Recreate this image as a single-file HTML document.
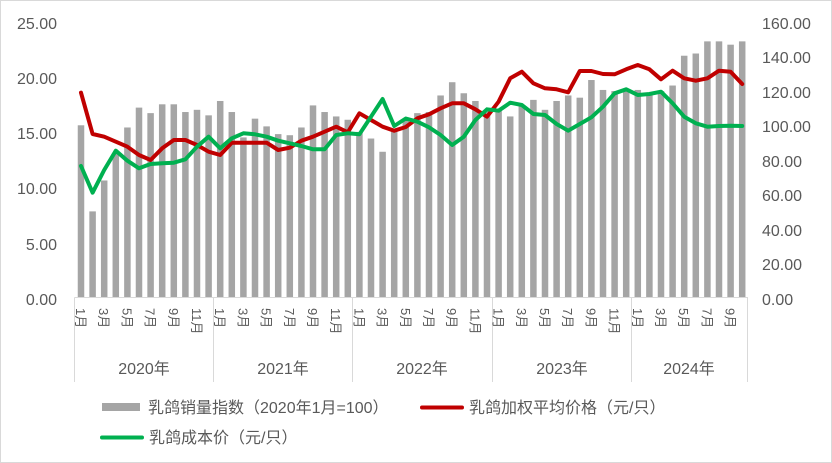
<!DOCTYPE html>
<html><head><meta charset="utf-8"><style>
html,body{margin:0;padding:0;background:#fff}
svg{display:block}
text{font-family:"Liberation Sans","Noto Sans CJK SC",sans-serif;fill:#595959}
</style></head><body>
<svg width="832" height="463" viewBox="0 0 832 463" xmlns="http://www.w3.org/2000/svg">
<rect x="0.5" y="0.5" width="831" height="462" fill="#fff" stroke="#d9d9d9"/>
<g font-size="16">
<text x="57" y="29" text-anchor="end">25.00</text>
<text x="57" y="84" text-anchor="end">20.00</text>
<text x="57" y="139" text-anchor="end">15.00</text>
<text x="57" y="194" text-anchor="end">10.00</text>
<text x="57" y="250" text-anchor="end">5.00</text>
<text x="57" y="305" text-anchor="end">0.00</text>
<text x="762" y="29">160.00</text>
<text x="762" y="63">140.00</text>
<text x="762" y="98">120.00</text>
<text x="762" y="132">100.00</text>
<text x="762" y="167">80.00</text>
<text x="762" y="201">60.00</text>
<text x="762" y="236">40.00</text>
<text x="762" y="270">20.00</text>
<text x="762" y="305">0.00</text>
</g>
<g transform="translate(77.75,297.5) scale(11.6,-11.04)" fill="#a5a5a5">
<rect x="0" width="0.56" height="15.6"/><rect x="1" width="0.56" height="7.8"/><rect x="2" width="0.56" height="10.6"/><rect x="3" width="0.56" height="13.1"/><rect x="4" width="0.56" height="15.4"/><rect x="5" width="0.56" height="17.2"/><rect x="6" width="0.56" height="16.7"/><rect x="7" width="0.56" height="17.5"/><rect x="8" width="0.56" height="17.5"/><rect x="9" width="0.56" height="16.8"/><rect x="10" width="0.56" height="17.0"/><rect x="11" width="0.56" height="16.5"/>
<rect x="12" width="0.56" height="17.8"/><rect x="13" width="0.56" height="16.8"/><rect x="14" width="0.56" height="14.5"/><rect x="15" width="0.56" height="16.2"/><rect x="16" width="0.56" height="15.5"/><rect x="17" width="0.56" height="14.8"/><rect x="18" width="0.56" height="14.7"/><rect x="19" width="0.56" height="15.4"/><rect x="20" width="0.56" height="17.4"/><rect x="21" width="0.56" height="16.8"/><rect x="22" width="0.56" height="16.4"/><rect x="23" width="0.56" height="16.1"/>
<rect x="24" width="0.56" height="15.0"/><rect x="25" width="0.56" height="14.4"/><rect x="26" width="0.56" height="13.2"/><rect x="27" width="0.56" height="15.2"/><rect x="28" width="0.56" height="16.1"/><rect x="29" width="0.56" height="16.7"/><rect x="30" width="0.56" height="16.8"/><rect x="31" width="0.56" height="18.3"/><rect x="32" width="0.56" height="19.5"/><rect x="33" width="0.56" height="18.5"/><rect x="34" width="0.56" height="17.8"/><rect x="35" width="0.56" height="17.0"/>
<rect x="36" width="0.56" height="17.0"/><rect x="37" width="0.56" height="16.4"/><rect x="38" width="0.56" height="17.3"/><rect x="39" width="0.56" height="17.9"/><rect x="40" width="0.56" height="17.0"/><rect x="41" width="0.56" height="17.8"/><rect x="42" width="0.56" height="18.3"/><rect x="43" width="0.56" height="18.1"/><rect x="44" width="0.56" height="19.7"/><rect x="45" width="0.56" height="18.8"/><rect x="46" width="0.56" height="18.7"/><rect x="47" width="0.56" height="18.8"/>
<rect x="48" width="0.56" height="18.8"/><rect x="49" width="0.56" height="18.4"/><rect x="50" width="0.56" height="18.7"/><rect x="51" width="0.56" height="19.2"/><rect x="52" width="0.56" height="21.9"/><rect x="53" width="0.56" height="22.1"/><rect x="54" width="0.56" height="23.2"/><rect x="55" width="0.56" height="23.2"/><rect x="56" width="0.56" height="22.9"/><rect x="57" width="0.56" height="23.2"/>
</g>
<g transform="translate(81,0) scale(11.6,1)" fill="none" stroke-width="4" stroke-linejoin="round" stroke-linecap="round">
<polyline vector-effect="non-scaling-stroke" stroke="#c00000" points="0,92.7 1,134 2,136.7 3,141.7 4,146.7 5,155 6,160 7,148.3 8,140 9,140 10,145 11,151.7 12,155 13,142.7 14,142.7 15,142.7 16,142.7 17,150 18,147.7 19,140.7 20,136.7 21,131.7 22,126.7 23,132.3 24,113.3 25,120 26,126.7 27,130.7 28,127 29,118.3 30,114.3 31,108.3 32,103.3 33,103.3 34,109.3 35,116.7 36,101.7 37,78.3 38,71.7 39,83.3 40,88.3 41,89.3 42,92.3 43,71 44,71 45,74 46,74.3 47,69.3 48,65 49,69.3 50,79.3 51,70.7 52,78.3 53,80.7 54,78.3 55,70.7 56,71.7 57,84"/>
<polyline vector-effect="non-scaling-stroke" stroke="#00b050" points="0,166 1,192.7 2,170 3,150.7 4,160.7 5,168.3 6,164 7,163.3 8,162.7 9,159.3 10,146.7 11,136.7 12,148.3 13,138.3 14,133.3 15,134.3 16,136.7 17,140.7 18,143.3 19,146 20,149.3 21,149.3 22,135 23,133.3 24,134.3 25,116.7 26,99 27,126 28,118.5 29,121.7 30,127.3 31,135 32,145 33,136.7 34,120 35,109.3 36,110.7 37,102.7 38,105 39,114 40,115 41,124 42,130.7 43,124 44,117.3 45,106.7 46,93.3 47,89.3 48,95 49,94 50,91.7 51,103.3 52,116.7 53,123.3 54,126.7 55,126 56,125.7 57,126"/>
</g>
<g stroke="#d9d9d9" stroke-width="1">
<line x1="74.5" y1="297.5" x2="748" y2="297.5"/>
<line x1="74.5" y1="297.5" x2="74.5" y2="382"/>
<line x1="213.5" y1="297.5" x2="213.5" y2="382"/>
<line x1="352.5" y1="297.5" x2="352.5" y2="382"/>
<line x1="492.5" y1="297.5" x2="492.5" y2="382"/>
<line x1="631.5" y1="297.5" x2="631.5" y2="382"/>
<line x1="747.5" y1="297.5" x2="747.5" y2="382"/>
</g>
<g font-size="13">
<text transform="translate(76,308) rotate(90)">1月</text><text transform="translate(99.2,308) rotate(90)">3月</text><text transform="translate(122.4,308) rotate(90)">5月</text><text transform="translate(145.6,308) rotate(90)">7月</text><text transform="translate(168.8,308) rotate(90)">9月</text><text transform="translate(192,308) rotate(90)">11月</text>
<text transform="translate(215.2,308) rotate(90)">1月</text><text transform="translate(238.4,308) rotate(90)">3月</text><text transform="translate(261.6,308) rotate(90)">5月</text><text transform="translate(284.8,308) rotate(90)">7月</text><text transform="translate(308,308) rotate(90)">9月</text><text transform="translate(331.2,308) rotate(90)">11月</text>
<text transform="translate(354.4,308) rotate(90)">1月</text><text transform="translate(377.6,308) rotate(90)">3月</text><text transform="translate(400.8,308) rotate(90)">5月</text><text transform="translate(424,308) rotate(90)">7月</text><text transform="translate(447.2,308) rotate(90)">9月</text><text transform="translate(470.4,308) rotate(90)">11月</text>
<text transform="translate(493.6,308) rotate(90)">1月</text><text transform="translate(516.8,308) rotate(90)">3月</text><text transform="translate(540,308) rotate(90)">5月</text><text transform="translate(563.2,308) rotate(90)">7月</text><text transform="translate(586.4,308) rotate(90)">9月</text><text transform="translate(609.6,308) rotate(90)">11月</text>
<text transform="translate(632.8,308) rotate(90)">1月</text><text transform="translate(656,308) rotate(90)">3月</text><text transform="translate(679.2,308) rotate(90)">5月</text><text transform="translate(702.4,308) rotate(90)">7月</text><text transform="translate(725.6,308) rotate(90)">9月</text>
</g>
<g font-size="16" text-anchor="middle">
<text x="144" y="374">2020年</text>
<text x="283" y="374">2021年</text>
<text x="422" y="374">2022年</text>
<text x="562" y="374">2023年</text>
<text x="689" y="374">2024年</text>
</g>
<rect x="102" y="403" width="38" height="8" fill="#a5a5a5"/>
<text x="148" y="413" font-size="16">乳鸽销量指数（2020年1月=100）</text>
<line x1="422" y1="407.5" x2="462" y2="407.5" stroke="#c00000" stroke-width="4" stroke-linecap="round"/>
<text x="469" y="413" font-size="16">乳鸽加权平均价格（元/只）</text>
<line x1="102" y1="437.5" x2="142" y2="437.5" stroke="#00b050" stroke-width="4" stroke-linecap="round"/>
<text x="149" y="443" font-size="16">乳鸽成本价（元/只）</text>
</svg>
</body></html>
